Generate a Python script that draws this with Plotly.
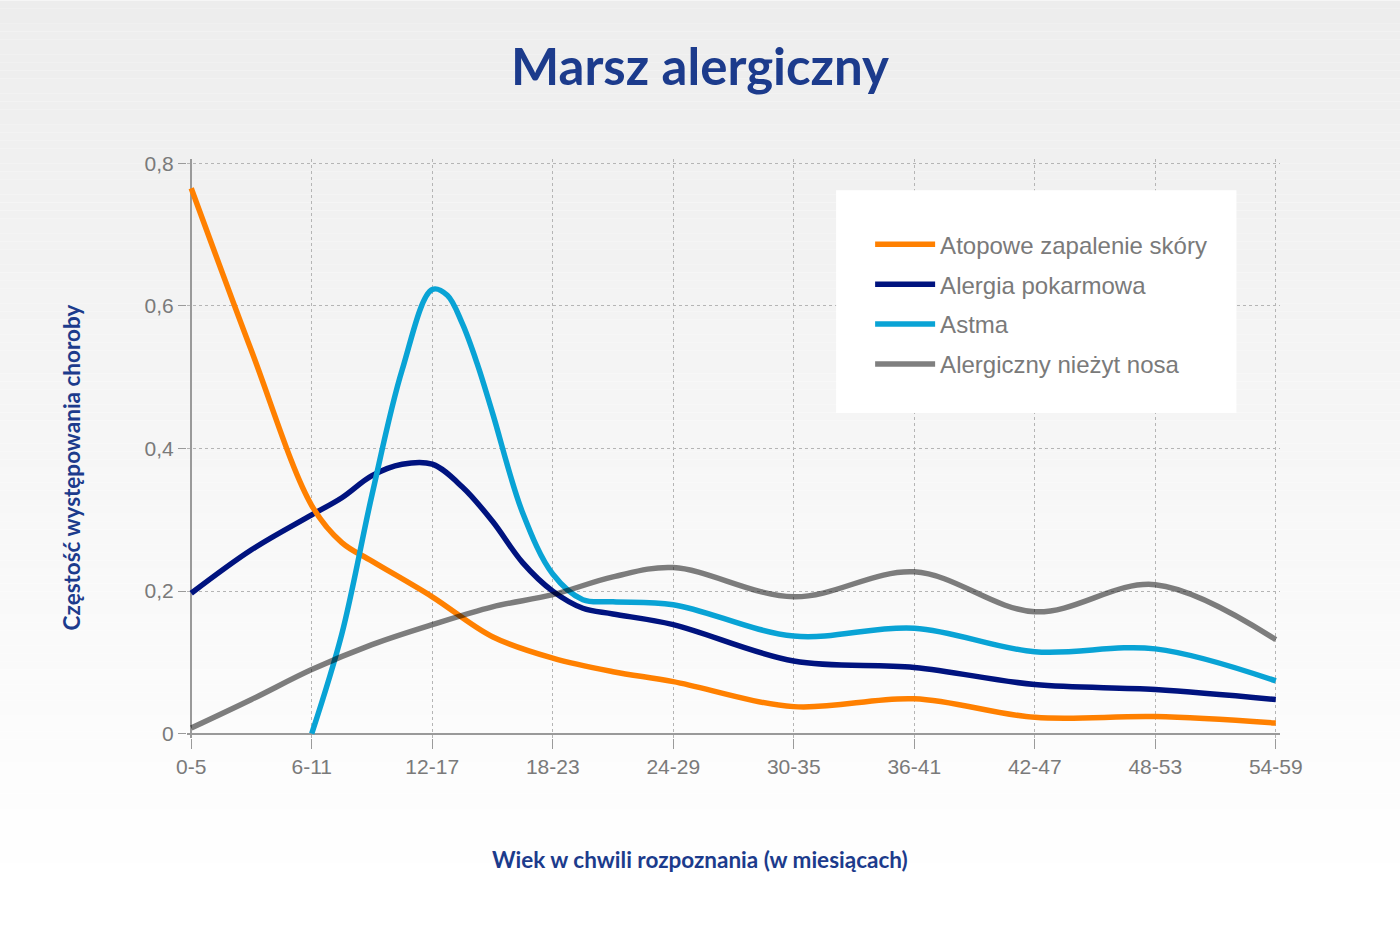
import plotly.graph_objects as go

# ---------------- data ----------------
categories = ["0-5", "6-11", "12-17", "18-23", "24-29", "30-35", "36-41", "42-47", "48-53", "54-59"]
y_tick_values = [0, 0.2, 0.4, 0.6, 0.8]
y_tick_labels = ["0", "0,2", "0,4", "0,6", "0,8"]

series_names = ["Atopowe zapalenie skóry", "Alergia pokarmowa", "Astma", "Alergiczny nieżyt nosa"]

# x values are positions on the category axis (0 = "0-5", 1 = "6-11", ...)
atopic_x = [0, 0.5, 1, 1.25, 1.5, 2, 2.5, 3, 3.5, 4, 5, 6, 7, 8, 9]
atopic_y = [0.765, 0.537, 0.320, 0.268, 0.242, 0.192, 0.136, 0.106, 0.087, 0.073, 0.038, 0.049, 0.023, 0.024, 0.015]

food_x = [0, 0.5, 1, 1.25, 1.5, 1.75, 2, 2.25, 2.5, 2.75, 3, 3.25, 3.5, 4, 5, 6, 7, 8, 9]
food_y = [0.197, 0.258, 0.307, 0.331, 0.362, 0.378, 0.378, 0.346, 0.298, 0.240, 0.200, 0.176, 0.168,
          0.153, 0.102, 0.093, 0.069, 0.062, 0.048]

asthma_x = [1, 1.25, 1.5, 1.75, 2, 2.125, 2.25, 2.375, 2.5, 2.75, 3, 3.25, 3.5, 4, 5, 6, 7, 8, 9]
asthma_y = [0.0, 0.140, 0.335, 0.510, 0.623, 0.615, 0.575, 0.518, 0.450, 0.310, 0.224, 0.188, 0.185,
            0.181, 0.137, 0.148, 0.115, 0.119, 0.074]

rhinitis_x = [0, 0.5, 1, 1.5, 2, 2.5, 3, 3.5, 4, 5, 6, 7, 8, 9]
rhinitis_y = [0.008, 0.048, 0.090, 0.125, 0.153, 0.178, 0.195, 0.220, 0.233, 0.192, 0.227, 0.171, 0.209, 0.132]

# ---------------- layout geometry ----------------
W, H = 1400, 934
X0_PX, X_UNIT = 191.7, 120.4
Y0_PX, Y_UNIT = 734.0, 713.75
x_range = [-0.035, 9.035]
y_range = [-0.006, 0.806]
left = X0_PX + x_range[0] * X_UNIT
right = X0_PX + x_range[1] * X_UNIT
bottom = Y0_PX - y_range[0] * Y_UNIT
top = Y0_PX - y_range[1] * Y_UNIT


def px_to_paper_x(px):
    return (px - left) / (right - left)


def px_to_paper_y(py):
    return (bottom - py) / (bottom - top)


TITLE_BLUE = "#1c3b8c"
ORANGE = "#ff8000"
NAVY = "#00137f"
CYAN = "#09a3d5"
GRAY = "rgba(0,0,0,0.5)"

fig = go.Figure()

draw_order = [
    (1, food_x, food_y, NAVY, 2),
    (0, atopic_x, atopic_y, ORANGE, 1),
    (2, asthma_x, asthma_y, CYAN, 3),
    (3, rhinitis_x, rhinitis_y, GRAY, 4),
]
for idx, xs, ys, color, rank in draw_order:
    fig.add_trace(go.Scatter(
        x=xs, y=ys, mode="lines", name=series_names[idx],
        line=dict(color=color, width=5.5, shape="spline", smoothing=1.0),
        legendrank=rank, legendgroup=f"g{rank}",
        hoverinfo="skip",
    ))

# background vertical gradient
shapes = []
n_steps = 120
y_top_paper = px_to_paper_y(0)
y_bot_paper = px_to_paper_y(H)
x_l = px_to_paper_x(0)
x_r = px_to_paper_x(W)
for i in range(n_steps):
    f0 = i / n_steps
    f1 = (i + 1) / n_steps
    fm = (f0 + f1) / 2
    c = int(round(237 + (255 - 237) * min(1.0, fm / 0.95)))
    shapes.append(dict(
        type="rect", xref="paper", yref="paper", layer="below",
        x0=x_l, x1=x_r,
        y0=y_top_paper + (y_bot_paper - y_top_paper) * f0,
        y1=y_top_paper + (y_bot_paper - y_top_paper) * f1,
        fillcolor=f"rgb({c},{c},{c})", line=dict(width=0),
    ))
# legend white box
shapes.append(dict(
    type="rect", xref="paper", yref="paper", layer="above",
    x0=px_to_paper_x(836), x1=px_to_paper_x(1236),
    y0=px_to_paper_y(413), y1=px_to_paper_y(190),
    fillcolor="white", line=dict(width=0),
))

annotations = [
    dict(text="<b>Wiek w chwili rozpoznania (w miesiącach)</b>",
         xref="paper", yref="paper", x=px_to_paper_x(700), y=px_to_paper_y(860),
         xanchor="center", yanchor="middle", showarrow=False,
         font=dict(family="Lato", size=22.5, color=TITLE_BLUE)),
    dict(text="<b>Częstość występowania choroby</b>",
         xref="paper", yref="paper", x=px_to_paper_x(73), y=px_to_paper_y(467),
         xanchor="center", yanchor="middle", showarrow=False, textangle=-90,
         font=dict(family="Lato", size=22.5, color=TITLE_BLUE)),
]

fig.update_layout(
    width=W, height=H,
    margin=dict(l=left, r=W - right, t=top, b=H - bottom, pad=0),
    paper_bgcolor="white",
    plot_bgcolor="rgba(0,0,0,0)",
    shapes=shapes,
    annotations=annotations,
    title=dict(
        text="<b>Marsz alergiczny</b>",
        font=dict(family="Lato", size=51, color=TITLE_BLUE),
        x=0.5, xref="container", xanchor="center",
        y=1 - 67 / H, yref="container", yanchor="middle",
    ),
    xaxis=dict(
        range=x_range, tickmode="array",
        tickvals=list(range(len(categories))), ticktext=categories,
        showgrid=True, gridcolor="#b5b5b5", griddash="dot", gridwidth=1,
        zeroline=True, zerolinecolor="#9a9a9a", zerolinewidth=1.5,
        showline=False, ticks="outside", ticklen=10, tickcolor="#9a9a9a",
        tickfont=dict(family="Liberation Sans", size=21, color="#7a7a7a"),
        fixedrange=True,
    ),
    yaxis=dict(
        range=y_range, tickmode="array",
        tickvals=y_tick_values, ticktext=y_tick_labels,
        showgrid=True, gridcolor="#b5b5b5", griddash="dot", gridwidth=1,
        zeroline=True, zerolinecolor="#9a9a9a", zerolinewidth=1.5,
        showline=False, ticks="outside", ticklen=8, tickcolor="#9a9a9a",
        tickfont=dict(family="Liberation Sans", size=21, color="#7a7a7a"),
        fixedrange=True,
    ),
    legend=dict(
        x=px_to_paper_x(870), y=px_to_paper_y(222),
        xanchor="left", yanchor="top",
        bgcolor="rgba(0,0,0,0)", borderwidth=0,
        font=dict(family="Liberation Sans", size=24, color="#7a7a7a"),
        itemwidth=60, traceorder="grouped", tracegroupgap=5.7,
    ),
)

fig.write_html("out.html", config={"displayModeBar": False},
               post_script="document.body.style.margin='0';")
